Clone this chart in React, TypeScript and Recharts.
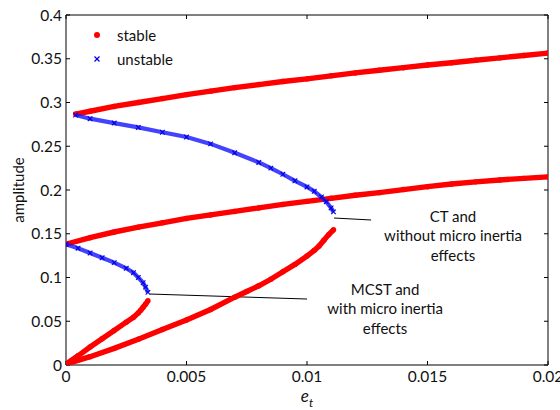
import React from 'react';
import { ScatterChart, Scatter, XAxis, YAxis, ReferenceLine, ReferenceDot } from 'recharts';

const xTicks = [0, 0.005, 0.01, 0.015, 0.02];
const xTickLabels = ['0', '0.005', '0.01', '0.015', '0.02'];
const yTicks = [0, 0.05, 0.1, 0.15, 0.2, 0.25, 0.3, 0.35, 0.4];
const yTickLabels = ['0', '0.05', '0.1', '0.15', '0.2', '0.25', '0.3', '0.35', '0.4'];

// stable upper branch
const stableUpper = [
  { x: 0.0004, y: 0.2868 }, { x: 0.001, y: 0.29 }, { x: 0.002, y: 0.2955 }, { x: 0.003, y: 0.3 },
  { x: 0.004, y: 0.3045 }, { x: 0.005, y: 0.309 }, { x: 0.006, y: 0.313 }, { x: 0.007, y: 0.317 },
  { x: 0.008, y: 0.3205 }, { x: 0.009, y: 0.324 }, { x: 0.01, y: 0.327 }, { x: 0.011, y: 0.3305 },
  { x: 0.012, y: 0.3338 }, { x: 0.013, y: 0.3368 }, { x: 0.014, y: 0.3398 }, { x: 0.015, y: 0.3428 },
  { x: 0.016, y: 0.3455 }, { x: 0.017, y: 0.3483 }, { x: 0.018, y: 0.351 }, { x: 0.019, y: 0.3537 },
  { x: 0.02, y: 0.3565 },
];

// unstable upper branch
const unstableUpper = [
  { x: 0.0004, y: 0.2857 }, { x: 0.001, y: 0.2815 }, { x: 0.002, y: 0.2765 }, { x: 0.003, y: 0.2715 },
  { x: 0.004, y: 0.266 }, { x: 0.005, y: 0.2605 }, { x: 0.006, y: 0.2527 }, { x: 0.007, y: 0.2425 },
  { x: 0.008, y: 0.2315 }, { x: 0.0085, y: 0.225 }, { x: 0.009, y: 0.218 }, { x: 0.0095, y: 0.2105 },
  { x: 0.01, y: 0.2035 }, { x: 0.0103, y: 0.1985 }, { x: 0.0106, y: 0.192 }, { x: 0.0108, y: 0.1865 },
  { x: 0.011, y: 0.1795 }, { x: 0.0111, y: 0.175 },
];

// stable middle branch
const stableMiddle = [
  { x: 0.0, y: 0.138 }, { x: 0.001, y: 0.1455 }, { x: 0.002, y: 0.152 }, { x: 0.003, y: 0.1575 },
  { x: 0.004, y: 0.1625 }, { x: 0.005, y: 0.1675 }, { x: 0.006, y: 0.1715 }, { x: 0.007, y: 0.1755 },
  { x: 0.008, y: 0.1795 }, { x: 0.009, y: 0.1835 }, { x: 0.01, y: 0.187 }, { x: 0.011, y: 0.1905 },
  { x: 0.012, y: 0.194 }, { x: 0.013, y: 0.197 }, { x: 0.014, y: 0.2005 }, { x: 0.015, y: 0.2038 },
  { x: 0.016, y: 0.2068 }, { x: 0.017, y: 0.2093 }, { x: 0.018, y: 0.2115 }, { x: 0.019, y: 0.2133 },
  { x: 0.02, y: 0.215 },
];

// unstable lower branch
const unstableLower = [
  { x: 0.0, y: 0.138 }, { x: 0.0005, y: 0.1335 }, { x: 0.001, y: 0.128 }, { x: 0.0015, y: 0.1225 },
  { x: 0.002, y: 0.117 }, { x: 0.0025, y: 0.1105 }, { x: 0.0028, y: 0.1055 }, { x: 0.003, y: 0.1 },
  { x: 0.0032, y: 0.094 }, { x: 0.0033, y: 0.089 }, { x: 0.0034, y: 0.083 },
];

// stable MCST small branch
const stableMcst = [
  { x: 0.0, y: 0.001 }, { x: 0.0005, y: 0.0105 }, { x: 0.001, y: 0.0205 }, { x: 0.0015, y: 0.03 },
  { x: 0.002, y: 0.0395 }, { x: 0.0025, y: 0.049 }, { x: 0.0028, y: 0.0545 }, { x: 0.003, y: 0.0595 },
  { x: 0.0031, y: 0.0625 }, { x: 0.0032, y: 0.066 }, { x: 0.0033, y: 0.0695 }, { x: 0.0034, y: 0.0735 },
];

// stable lower (CT) branch
const stableCt = [
  { x: 0.0, y: 0.001 }, { x: 0.001, y: 0.0095 }, { x: 0.002, y: 0.019 }, { x: 0.003, y: 0.0295 },
  { x: 0.004, y: 0.0405 }, { x: 0.005, y: 0.0515 }, { x: 0.006, y: 0.0635 }, { x: 0.007, y: 0.0775 },
  { x: 0.0075, y: 0.084 }, { x: 0.008, y: 0.0905 }, { x: 0.0085, y: 0.098 }, { x: 0.009, y: 0.1065 },
  { x: 0.0095, y: 0.115 }, { x: 0.01, y: 0.1245 }, { x: 0.0103, y: 0.131 }, { x: 0.0105, y: 0.136 },
  { x: 0.0107, y: 0.1425 }, { x: 0.0109, y: 0.149 }, { x: 0.0111, y: 0.1545 },
];

const ctLeader = [{ x: 0.01112, y: 0.168 }, { x: 0.01266, y: 0.1657 }];
const mcstLeader = [{ x: 0.00349, y: 0.0811 }, { x: 0.01, y: 0.0754 }];
const ctLabelPos = { x: 0.01606, y: 0.1703 };
const mcstLabelPos = { x: 0.01324, y: 0.0869 };
const ctLabelLines = ['CT and', 'without micro inertia', 'effects'];
const mcstLabelLines = ['MCST and', 'with micro inertia', 'effects'];
const legendItems = ['stable', 'unstable'];

const FONT = 'Lato, "Open Sans", sans-serif';
const RED = '#ff0000';
const BLUE = '#1414ff';

const RedDot = (p: any) => <circle cx={p.cx} cy={p.cy} r={2.7} fill={RED} />;
const BlueX = (p: any) => {
  const s = 2.3;
  return (
    <g stroke="#0000e0" strokeWidth={1.1}>
      <line x1={p.cx - s} y1={p.cy - s} x2={p.cx + s} y2={p.cy + s} />
      <line x1={p.cx - s} y1={p.cy + s} x2={p.cx + s} y2={p.cy - s} />
    </g>
  );
};

const MultiText = ({ cx, cy, lines }: any) => (
  <text x={cx} y={cy} textAnchor="middle" fontFamily={FONT} fontSize={15} fill="#111">
    {lines.map((l: string, i: number) => (
      <tspan key={i} x={cx} y={cy + i * 19.5} dominantBaseline="central">{l}</tspan>
    ))}
  </text>
);

const XLabel = (props: any) => {
  const vb = props.viewBox;
  const cx = vb.x + vb.width / 2;
  return (
    <text x={cx} y={vb.y + 37} textAnchor="middle" fontFamily={FONT} fontSize={17} fill="#111">
      <tspan fontStyle="italic">e</tspan>
      <tspan fontStyle="italic" fontSize={12} dy={5}>t</tspan>
    </text>
  );
};

const YLabel = (props: any) => {
  const vb = props.viewBox;
  const cy = vb.y + vb.height / 2;
  return (
    <text x={18} y={cy} textAnchor="middle" dominantBaseline="central" transform={`rotate(-90, 18, ${cy})`}
      fontFamily={FONT} fontSize={15} fill="#111">amplitude</text>
  );
};

const tickStyle = { fill: '#111', fontSize: 15.5, fontFamily: FONT };

export default function App() {
  return (
    <div style={{ position: 'absolute', left: 0, top: 0, width: 560, height: 410, background: '#fff' }}>
      <ScatterChart width={560} height={410} margin={{ top: 14, right: 11, bottom: 0, left: 0 }}>
        <XAxis xAxisId="b" type="number" dataKey="x" domain={[0, 0.02]} ticks={xTicks} interval={0}
          allowDataOverflow tickSize={-4} tickMargin={10} height={45} stroke="#000"
          tick={tickStyle} tickFormatter={(v: number) => xTickLabels[xTicks.indexOf(v)] ?? String(v)}
          label={<XLabel />} />
        <XAxis xAxisId="t" orientation="top" type="number" dataKey="x" domain={[0, 0.02]} ticks={xTicks}
          interval={0} allowDataOverflow tickSize={-4} height={1} stroke="#000" tickFormatter={() => ''} />
        <YAxis yAxisId="l" type="number" dataKey="y" domain={[0, 0.4]} ticks={yTicks} interval={0}
          allowDataOverflow tickSize={-4} tickMargin={8} width={66} stroke="#000" tick={tickStyle}
          tickFormatter={(v: number) => yTickLabels[yTicks.indexOf(v)] ?? String(v)} label={<YLabel />} />
        <YAxis yAxisId="r" orientation="right" type="number" dataKey="y" domain={[0, 0.4]} ticks={yTicks}
          interval={0} allowDataOverflow tickSize={-4} width={1} stroke="#000" tickFormatter={() => ''} />

        <Scatter xAxisId="b" yAxisId="l" data={stableUpper} isAnimationActive={false} shape={RedDot}
          line={{ stroke: RED, strokeWidth: 5.4 }} lineType="joint" />
        <Scatter xAxisId="b" yAxisId="l" data={stableMiddle} isAnimationActive={false} shape={RedDot}
          line={{ stroke: RED, strokeWidth: 5.4 }} lineType="joint" />
        <Scatter xAxisId="b" yAxisId="l" data={stableCt} isAnimationActive={false} shape={RedDot}
          line={{ stroke: RED, strokeWidth: 5.4 }} lineType="joint" />
        <Scatter xAxisId="b" yAxisId="l" data={stableMcst} isAnimationActive={false} shape={RedDot}
          line={{ stroke: RED, strokeWidth: 5.4 }} lineType="joint" />
        <Scatter xAxisId="b" yAxisId="l" data={unstableUpper} isAnimationActive={false} shape={BlueX}
          line={{ stroke: BLUE, strokeWidth: 4.2, strokeOpacity: 0.8 }} lineType="joint" />
        <Scatter xAxisId="b" yAxisId="l" data={unstableLower} isAnimationActive={false} shape={BlueX}
          line={{ stroke: BLUE, strokeWidth: 4.2, strokeOpacity: 0.8 }} lineType="joint" />

        <ReferenceLine xAxisId="b" yAxisId="l" segment={ctLeader} stroke="#000" strokeWidth={1} ifOverflow="visible" />
        <ReferenceLine xAxisId="b" yAxisId="l" segment={mcstLeader} stroke="#000" strokeWidth={1} ifOverflow="visible" />
        <ReferenceDot xAxisId="b" yAxisId="l" x={ctLabelPos.x} y={ctLabelPos.y} r={0} ifOverflow="visible"
          shape={(p: any) => <MultiText cx={p.cx} cy={p.cy} lines={ctLabelLines} />} />
        <ReferenceDot xAxisId="b" yAxisId="l" x={mcstLabelPos.x} y={mcstLabelPos.y} r={0} ifOverflow="visible"
          shape={(p: any) => <MultiText cx={p.cx} cy={p.cy} lines={mcstLabelLines} />} />
      </ScatterChart>
      <div style={{ position: 'absolute', left: 91, top: 23, fontFamily: FONT, fontSize: 15, color: '#111' }}>
        {legendItems.map((name, i) => (
          <div key={name} style={{ display: 'flex', alignItems: 'center', height: 24 }}>
            <svg width={12} height={12} style={{ marginRight: 14 }}>
              {i === 0 ? (
                <circle cx={6} cy={6} r={3} fill={RED} />
              ) : (
                <g stroke="#0000e0" strokeWidth={1.2}>
                  <line x1={3.5} y1={3.5} x2={8.5} y2={8.5} />
                  <line x1={3.5} y1={8.5} x2={8.5} y2={3.5} />
                </g>
              )}
            </svg>
            <span>{name}</span>
          </div>
        ))}
      </div>
    </div>
  );
}
